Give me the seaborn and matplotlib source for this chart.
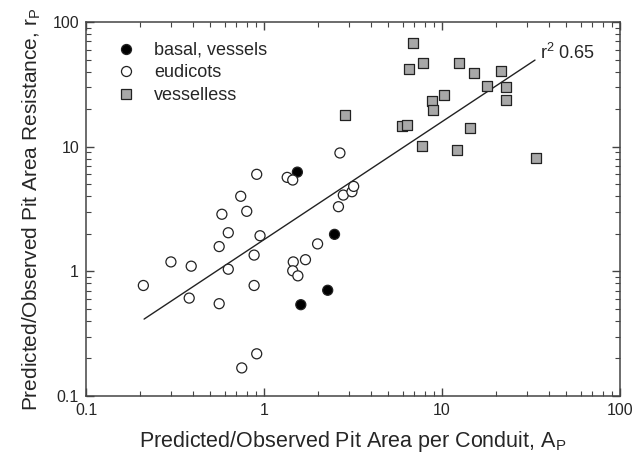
import numpy as np
import pandas as pd
import seaborn as sns
import matplotlib.pyplot as plt
from matplotlib.ticker import LogLocator, FixedLocator, FixedFormatter

# Data
eudicot_x = [0.21, 0.30, 0.39, 0.38, 0.56, 0.63, 0.63, 0.56, 0.95, 0.88, 0.88,
             0.75, 0.91, 1.46, 1.45, 1.55, 1.71, 2.0, 0.91, 0.74, 0.80, 0.58,
             1.35, 1.45, 2.67, 2.79, 3.12, 3.19, 2.62]
eudicot_y = [0.77, 1.19, 1.10, 0.61, 1.58, 2.04, 1.04, 0.55, 1.93, 1.35, 0.77,
             0.168, 0.218, 1.19, 1.01, 0.92, 1.24, 1.66, 6.0, 4.0, 3.03, 2.87,
             5.67, 5.4, 8.9, 4.09, 4.35, 4.8, 3.3]

basal_x = [1.54, 1.61, 2.49, 2.28]
basal_y = [6.25, 0.54, 1.98, 0.705]

vesselless_x = [2.86, 6.84, 6.5, 7.82, 12.5, 15.2, 21.4, 17.9, 23.0, 23.0, 10.3,
                8.75, 8.94, 5.96, 6.33, 14.3, 7.75, 12.2, 33.7]
vesselless_y = [17.8, 67.7, 41.9, 47.1, 46.5, 38.9, 40.4, 30.6, 30.2, 23.8, 25.8,
                23.1, 19.7, 14.6, 14.8, 14.0, 10.05, 9.4, 8.06]

fit_x = [0.212, 33.3]
fit_y = [0.414, 49.5]

df = pd.concat([
    pd.DataFrame({'ap': basal_x, 'rp': basal_y, 'group': 'basal, vessels'}),
    pd.DataFrame({'ap': eudicot_x, 'rp': eudicot_y, 'group': 'eudicots'}),
    pd.DataFrame({'ap': vesselless_x, 'rp': vesselless_y, 'group': 'vesselless'}),
])

sns.set_style('ticks')
plt.rcParams['font.family'] = ['Liberation Sans', 'DejaVu Sans']

fig = plt.figure(figsize=(6.41, 4.55), dpi=100)
ax = fig.add_axes([86 / 641, 1 - 396 / 455, (620 - 86) / 641, (396 - 22) / 455])

sns.scatterplot(
    data=df, x='ap', y='rp', hue='group', style='group',
    hue_order=['basal, vessels', 'eudicots', 'vesselless'],
    palette={'basal, vessels': 'black', 'eudicots': 'white', 'vesselless': '#a8a8a8'},
    markers={'basal, vessels': 'o', 'eudicots': 'o', 'vesselless': 's'},
    s=52, edgecolor='#222222', linewidth=0.9, ax=ax, zorder=3,
)
sns.lineplot(x=fit_x, y=fit_y, color='#222222', linewidth=1.0, ax=ax, zorder=2)

ax.set_xscale('log')
ax.set_yscale('log')
ax.set_xlim(0.1, 100)
ax.set_ylim(0.1, 100)

for axis in (ax.xaxis, ax.yaxis):
    axis.set_major_locator(FixedLocator([0.1, 1, 10, 100]))
    axis.set_major_formatter(FixedFormatter(['0.1', '1', '10', '100']))
    axis.set_minor_locator(LogLocator(base=10, subs=np.arange(2, 10)))
ax.tick_params(which='both', direction='in', top=True, right=True,
               color='#444444', labelsize=11.5)
ax.tick_params(which='major', length=6, width=1, pad=5)
ax.tick_params(which='minor', length=3.5, width=0.8)
for sp in ax.spines.values():
    sp.set_color('#444444')
    sp.set_linewidth(1.1)

ax.set_xlabel('Predicted/Observed Pit Area per Conduit, A$_\\mathregular{P}$',
              fontsize=15.5, labelpad=8)
ax.set_ylabel('Predicted/Observed Pit Area Resistance, r$_\\mathregular{P}$',
              fontsize=15, labelpad=7)

ax.text(35.5, 47, 'r$^\\mathregular{2}$ 0.65', fontsize=13, va='bottom', ha='left')

ax.legend(loc='upper left', bbox_to_anchor=(0.028, 0.99), frameon=False,
          fontsize=13, handlelength=1.0, handletextpad=1.05, labelspacing=0.3,
          title=None)

fig.savefig('out.png', dpi=100)
